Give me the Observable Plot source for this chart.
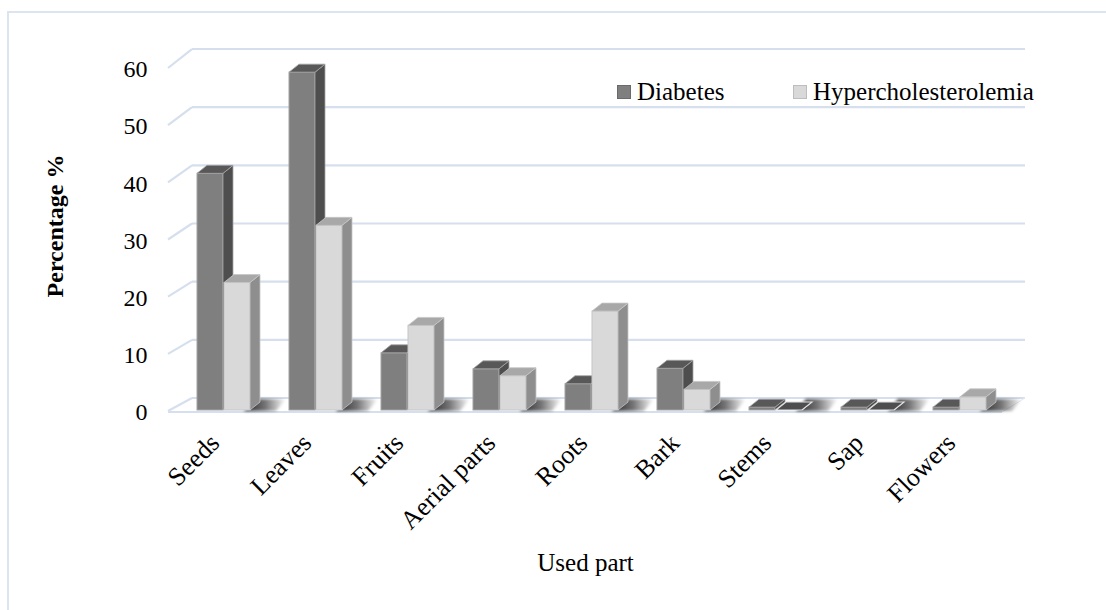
<!DOCTYPE html>
<html><head><meta charset="utf-8">
<script src="https://cdn.jsdelivr.net/npm/d3@7"></script>
<script src="https://cdn.jsdelivr.net/npm/@observablehq/plot@0.6"></script>
<style>
body{margin:0;background:#fff;}
#wrap{position:relative;width:1106px;height:610px;overflow:hidden;font-family:"Liberation Serif",serif;background:#fff;}
#border{position:absolute;left:7px;top:11px;width:1130px;height:640px;border:2px solid #dbe4f1;box-sizing:border-box;pointer-events:none;}
#chart{position:absolute;left:0;top:0;}
.lg-sw{position:absolute;width:14px;height:14px;box-sizing:border-box;}
.lg-tx{position:absolute;font-size:25px;line-height:25px;color:#000;white-space:nowrap;}
</style></head><body>
<div id="wrap"><div id="chart"></div><div id="legend"></div><div id="border"></div></div>
<script>
// ---- data ----
const parts = ["Seeds","Leaves","Fruits","Aerial parts","Roots","Bark","Stems","Sap","Flowers"];
const series = ["Diabetes","Hypercholesterolemia"];
const diabetes = [41.4, 59.1, 10.0, 7.2, 4.6, 7.3, 0.5, 0.5, 0.5];
const hyper    = [22.3, 32.3, 14.8, 6.0, 17.3, 3.6, 0, 0, 2.3];
const yTicks = [0, 10, 20, 30, 40, 50, 60];
const xTitle = "Used part";
const yTitle = "Percentage %";

// ---- styles ----
const frontColors = ["#7f7f7f", "#d9d9d9"];
const topColors   = ["#585858", "#a8a8a8"];
const sideColors  = ["#4e4e4e", "#8e8e8e"];
const edgeColors  = ["#a4a4a4", "#c6c6c6"];
const gridColor = "#d5dfed";

const rows = parts.flatMap((p, i) => [
  {part: p, series: series[0], value: diabetes[i]},
  {part: p, series: series[1], value: hyper[i]}
]);

const DX = 10, DY = -8; // depth of the 3D boxes

function rectsOf(g) {
  return Array.from(g.querySelectorAll("rect")).map(r => ({
    el: r, x: +r.getAttribute("x"), y: +r.getAttribute("y"),
    w: +r.getAttribute("width"), h: +r.getAttribute("height")
  }));
}
const pts = a => a.map(p => p.join(",")).join(" ");

// back wall grid, side wall and floor
const grid = Plot.ruleY(yTicks, {
  y: d => d,
  render(index, scales, values, dim) {
    const g = d3.create("svg:g");
    const xl = dim.marginLeft, xr = dim.width - dim.marginRight;
    const y0 = scales.y(0);
    const fl = xl + 12, bl = xl + 36, br = xr - 3, fr = xr - 26;
    for (const i of index) {
      const yf = values.y[i] + 1;
      const yb = yf - (13 + (y0 - yf) * 6 / 343);
      g.append("line").attr("x1", bl).attr("x2", br).attr("y1", yb).attr("y2", yb)
        .attr("stroke", gridColor).attr("stroke-width", 2.2);
      g.append("line").attr("x1", fl).attr("x2", bl).attr("y1", yf).attr("y2", yb)
        .attr("stroke", gridColor).attr("stroke-width", 2.2);
      if (values.y[i] === y0) {
        g.append("line").attr("x1", fl).attr("x2", fr).attr("y1", yf + 1).attr("y2", yf + 1)
          .attr("stroke", gridColor).attr("stroke-width", 2.2);
        g.append("line").attr("x1", fr).attr("x2", br).attr("y1", yf + 1).attr("y2", yb)
          .attr("stroke", "#e6ecf5").attr("stroke-width", 1);
      }
    }
    return g.node();
  }
});

// soft floor shadows cast by each group
const shadows = Plot.barY(rows.filter(d => d.series === series[1]), {
  x: "part", y: "value", insetLeft: 27,
  render(index, scales, values, dim, ctx, next) {
    const g = next(index, scales, values, dim, ctx);
    const y0 = scales.y(0);
    const sel = d3.select(g);
    const defs = sel.append("defs");
    const lg = defs.append("linearGradient").attr("id", "shgrad");
    lg.append("stop").attr("offset", "0").attr("stop-color", "#000").attr("stop-opacity", 0.85);
    lg.append("stop").attr("offset", "0.5").attr("stop-color", "#000").attr("stop-opacity", 0.55);
    lg.append("stop").attr("offset", "1").attr("stop-color", "#000").attr("stop-opacity", 0);
    const f = defs.append("filter").attr("id", "shblur").attr("x", "-20%").attr("y", "-50%").attr("width", "140%").attr("height", "200%");
    f.append("feGaussianBlur").attr("stdDeviation", 1.5);
    for (const r of rectsOf(g)) {
      const xr = r.x + r.w;
      sel.append("polygon")
        .attr("points", pts([[xr - 6, y0 + 1], [xr + 4, y0 - 11], [xr + 36, y0 - 11], [xr + 26, y0 + 1]]))
        .attr("fill", "url(#shgrad)").attr("filter", "url(#shblur)");
      r.el.remove();
    }
    return g;
  }
});

function bars3d(k) {
  return Plot.barY(rows.filter(d => d.series === series[k]), {
    x: "part", y: "value",
    fill: frontColors[k], stroke: edgeColors[k], strokeWidth: 1,
    insetLeft: k === 0 ? 0 : 27, insetRight: k === 0 ? 27 : 0,
    render(index, scales, values, dim, ctx, next) {
      const g = next(index, scales, values, dim, ctx);
      const sel = d3.select(g);
      for (const r of rectsOf(g)) {
        const {x, y, w, h} = r;
        const flat = h < 1;
        sel.append("polygon")
          .attr("points", pts([[x + w, y], [x + w + DX, y + DY], [x + w + DX, y + h + DY], [x + w, y + h]]))
          .attr("fill", sideColors[k]).attr("stroke", edgeColors[k]).attr("stroke-width", 0.8);
        sel.append("polygon")
          .attr("points", pts([[x, y], [x + DX, y + DY], [x + w + DX, y + DY], [x + w, y]]))
          .attr("fill", flat ? "#4e4e4e" : topColors[k])
          .attr("stroke", flat ? "#e0e0e0" : edgeColors[k]).attr("stroke-width", flat ? 1.2 : 0.8);
      }
      return g;
    }
  });
}

const chart = Plot.plot({
  width: 1106, height: 610,
  marginLeft: 156, marginRight: 78, marginTop: 67, marginBottom: 200,
  style: {fontFamily: "'Liberation Serif', serif", fontSize: "24px", color: "#000", background: "transparent"},
  x: {type: "band", domain: parts, padding: 0.42, axis: null},
  y: {domain: [0, 60], axis: null},
  marks: [
    grid,
    shadows,
    bars3d(0),
    bars3d(1),
    Plot.axisY({ticks: yTicks, tickSize: 0, tickPadding: 9, dy: 2, label: null, fontSize: 24}),
    Plot.text(parts, {x: d => d, frameAnchor: "bottom", rotate: -45, textAnchor: "end", lineAnchor: "bottom", dx: -3, dy: 34, fontSize: 26}),
    Plot.text([xTitle], {frameAnchor: "bottom", textAnchor: "middle", dx: -7, dy: 160, fontSize: 25}),
    Plot.text([yTitle], {frameAnchor: "left", textAnchor: "middle", dx: -101, dy: -13, rotate: -90, fontSize: 24, fontWeight: "bold"})
  ]
});
document.getElementById("chart").appendChild(chart);

// legend (inside plot area, top right)
const legend = document.getElementById("legend");
const lgX = [617, 793];
series.forEach((s, k) => {
  const sw = document.createElement("div");
  sw.className = "lg-sw";
  sw.style.left = lgX[k] + "px"; sw.style.top = "85px";
  sw.style.background = frontColors[k];
  sw.style.border = "1px solid " + (k === 0 ? "#6a6a6a" : "#bdbdbd");
  legend.appendChild(sw);
  const tx = document.createElement("div");
  tx.className = "lg-tx";
  tx.style.left = (lgX[k] + 20) + "px"; tx.style.top = "79px";
  tx.textContent = s;
  legend.appendChild(tx);
});
</script>
</body></html>
